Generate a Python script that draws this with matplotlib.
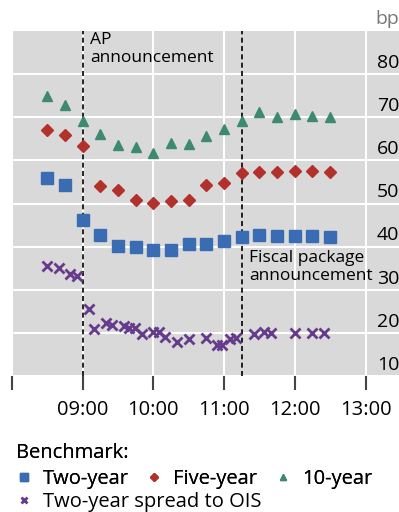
import matplotlib
matplotlib.use("Agg")
from matplotlib import pyplot as plt
plt.rcParams['font.family'] = ['Open Sans', 'DejaVu Sans']

# quarter-hour snapshots, 08:30 -> 12:30
times_q = ["08:30", "08:45", "09:00", "09:15", "09:30", "09:45", "10:00", "10:15", "10:30",
           "10:45", "11:00", "11:15", "11:30", "11:45", "12:00", "12:15", "12:30"]
two_year = [55.8, 54.4, 46.1, 42.8, 40.1, 39.8, 39.3, 39.3, 40.5,
            40.6, 41.2, 42.3, 42.8, 42.5, 42.5, 42.5, 42.3]
five_year = [67.1, 65.9, 63.3, 54.0, 53.2, 50.9, 50.1, 50.5, 50.8,
             54.4, 54.8, 57.0, 57.2, 57.2, 57.6, 57.6, 57.2]
ten_year = [75.0, 72.9, 69.2, 66.2, 63.6, 63.0, 61.8, 64.0, 63.7,
            65.6, 67.2, 69.1, 71.3, 70.0, 70.8, 70.2, 70.0]

# two-year spread to OIS, irregular times
times_ois = ["08:30", "08:40", "08:49", "08:55", "09:05", "09:10", "09:20", "09:25", "09:35",
             "09:39", "09:44", "09:50", "10:00", "10:05", "10:10", "10:20", "10:30", "10:45",
             "10:54", "10:58", "11:05", "11:10", "11:25", "11:34", "11:40", "12:00", "12:15", "12:25"]
ois_spread = [35.6, 35.1, 33.7, 33.1, 25.6, 20.9, 22.4, 21.9, 21.6,
              21.2, 21.2, 19.8, 20.2, 20.1, 19.1, 17.8, 18.6, 18.9,
              17.3, 17.3, 18.5, 18.7, 19.7, 20.1, 20.0, 19.9, 19.9, 19.9]

events = ["09:00", "11:15"]
event_labels = ["AP\nannouncement", "Fiscal package\nannouncement"]
xtick_hours = [8, 9, 10, 11, 12, 13]
xtick_labels = ["", "09:00", "10:00", "11:00", "12:00", "13:00"]
ytick_vals = [10, 20, 30, 40, 50, 60, 70, 80]


def hm2h(s):
    h, m = s.split(":")
    return int(h) + int(m) / 60.0


blue = "#3a6cb4"
red = "#b3312d"
green = "#3d8a6e"
purple = "#663b8c"
grey_bg = "#d9d9d9"
fs = 14.5

mydpi = 100
fig = plt.figure(figsize=(399 / mydpi, 512 / mydpi), dpi=mydpi)
ax = fig.add_axes([12 / 399, 1 - 376 / 512, 387 / 399, 345 / 512])
ax.set_facecolor(grey_bg)
for sp in ax.spines.values():
    sp.set_visible(False)

xq = [hm2h(t) for t in times_q]
xo = [hm2h(t) for t in times_ois]
h1, = ax.plot(xq, two_year, ls="none", marker="s", ms=8.5, color=blue, label="Two-year", zorder=3)
h2, = ax.plot(xq, five_year, ls="none", marker="D", ms=6.5, color=red, label="Five-year", zorder=3)
h3, = ax.plot(xq, ten_year, ls="none", marker="^", ms=7.5, color=green, label="10-year", zorder=3)
h4, = ax.plot(xo, ois_spread, ls="none", marker="x", ms=7, mew=2, color=purple,
              label="Two-year spread to OIS", zorder=3)

for ev in events:
    ax.axvline(hm2h(ev), color="black", lw=1.2, ls=(0, (3, 2)), zorder=2)
ax.text(hm2h(events[0]) + 0.1, 89.7, event_labels[0], ha="left", va="top", fontsize=12.5, linespacing=1.15)
ax.text(hm2h(events[1]) + 0.1, 39.2, event_labels[1], ha="left", va="top", fontsize=12.5, linespacing=1.15)

ax.set_xlim(8, 8 + 387 / 70.7)
ax.set_ylim(10, 90)
ax.set_xticks(xtick_hours)
ax.set_xticklabels(xtick_labels, fontsize=fs)
ax.set_yticks(ytick_vals)
ax.tick_params(axis="y", length=0, labelleft=False)
ax.tick_params(axis="x", length=10, width=1.5, color="#444444", pad=7)
ax.grid(True, color="white", lw=1.5)
ax.set_axisbelow(True)

for v in ytick_vals:
    ax.text(13.16, v + 0.5, str(v), ha="left", va="bottom", fontsize=14)
ax.text(13.14, 90.6, "bp", ha="left", va="bottom", fontsize=14, color="#777777")

leg1 = fig.legend(handles=[h1, h2, h3], ncol=3, title="Benchmark:", alignment="left",
                  loc="upper left", bbox_to_anchor=(16 / 399, 1 - 443 / 512), frameon=False,
                  fontsize=fs, title_fontsize=fs, markerscale=0.65, handlelength=0.8,
                  handletextpad=0.55, columnspacing=0.85, borderaxespad=0, borderpad=0,
                  labelspacing=0.3)
fig.add_artist(leg1)
fig.legend(handles=[h4], loc="upper left", bbox_to_anchor=(16 / 399, 1 - 492 / 512), frameon=False,
           fontsize=fs, markerscale=0.65, handlelength=0.8, handletextpad=0.55,
           borderaxespad=0, borderpad=0)

plt.savefig("out.png", dpi=mydpi)
